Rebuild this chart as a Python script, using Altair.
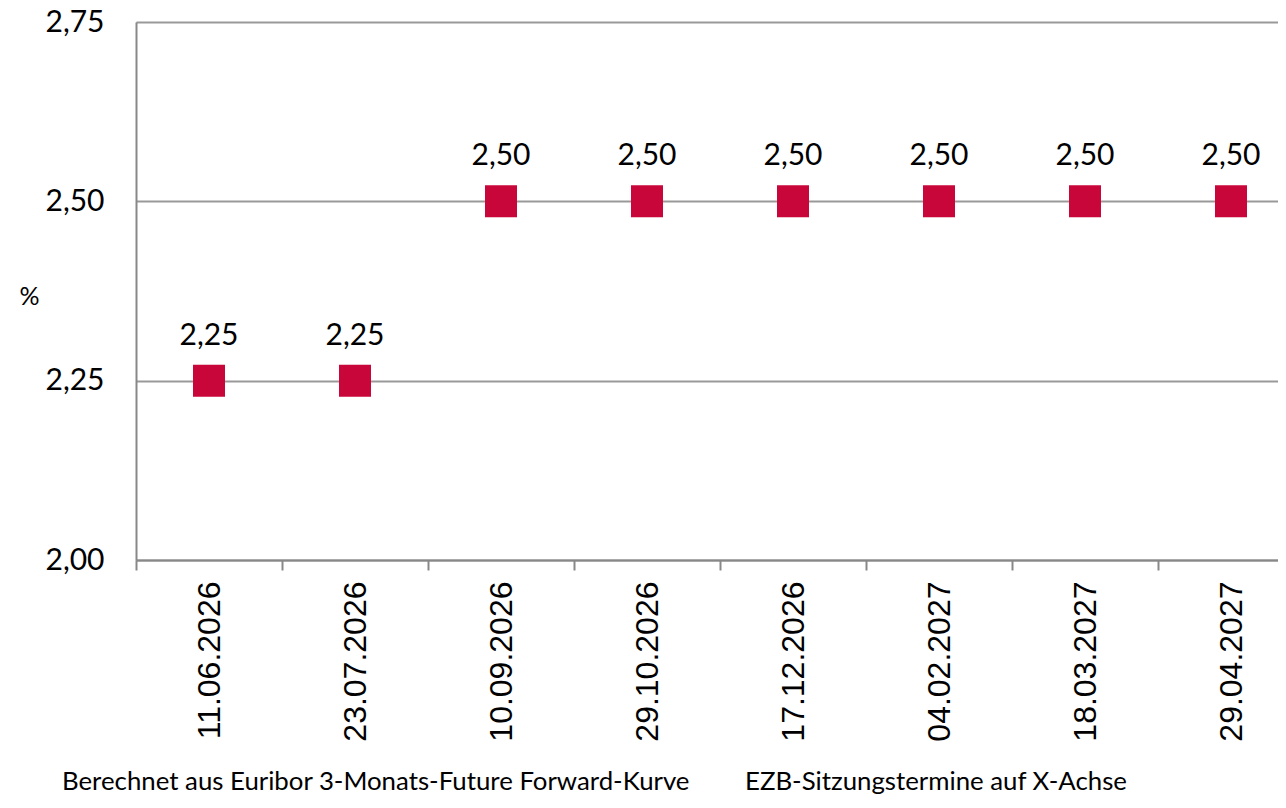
import altair as alt
import pandas as pd

dates = ["11.06.2026", "23.07.2026", "10.09.2026", "29.10.2026",
         "17.12.2026", "04.02.2027", "18.03.2027", "29.04.2027"]
rates = [2.25, 2.25, 2.50, 2.50, 2.50, 2.50, 2.50, 2.50]
y_ticks = [2.00, 2.25, 2.50, 2.75]
foot_left = "Berechnet aus Euribor 3-Monats-Future Forward-Kurve"
foot_right = "EZB-Sitzungstermine auf X-Achse"

df = pd.DataFrame({"date": dates, "rate": rates})
df["label"] = [f"{v:.2f}".replace(".", ",") for v in rates]

RED = "#C8063A"

x = alt.X("date:N", sort=dates, title=None,
          scale=alt.Scale(paddingInner=0, paddingOuter=0, range=[0, 1168]),
          axis=alt.Axis(labelAngle=-90, labelFont="Liberation Sans", labelFontSize=32,
                        labelColor="#000000", labelAlign="right", labelBaseline="middle",
                        labelPadding=11, tickSize=10, tickBand="extent",
                        tickColor="#888888", tickWidth=2, domainColor="#888888",
                        domainWidth=2, grid=False, labelOverlap=False))
y = alt.Y("rate:Q", title="%",
          scale=alt.Scale(domain=[2.0, 2.75], nice=False, zero=False),
          axis=alt.Axis(values=y_ticks,
                        labelExpr="replace(format(datum.value, '.2f'), '.', ',')",
                        labelFont="Lato", labelFontSize=30, labelColor="#000000",
                        labelPadding=32, ticks=False, domainColor="#888888",
                        domainWidth=2, grid=True, gridColor="#999999", gridWidth=2,
                        titleAngle=0, titleFont="Lato", titleFontSize=25,
                        titleFontWeight="normal", titleColor="#000000",
                        titleX=-107, titleY=274, titleAlign="center",
                        titleBaseline="middle"))

base = alt.Chart(df)
points = base.mark_square(size=1024, color=RED, opacity=1).encode(x=x, y=y)
labels = base.mark_text(dy=-45, fontSize=30, font="Lato", color="#000000").encode(
    x=x, y=y, text="label:N")

foot_df = pd.DataFrame({"t": [foot_left, foot_right], "px": [-74, 609]})
footer = alt.Chart(foot_df).mark_text(
    align="left", baseline="alphabetic", font="Lato", fontSize=25.8, color="#000000"
).encode(x=alt.X("px:Q", scale=None), y=alt.value(768), text="t:N")

chart = alt.layer(points, labels, footer).properties(
    width=1142, height=538,
    padding={"left": 128, "top": 14, "right": 0, "bottom": 240},
    autosize=alt.AutoSizeParams(type="none"),
).configure_view(stroke=None).configure(background="white")

chart.save("out.html", embed_options={"renderer": "svg", "actions": False})
